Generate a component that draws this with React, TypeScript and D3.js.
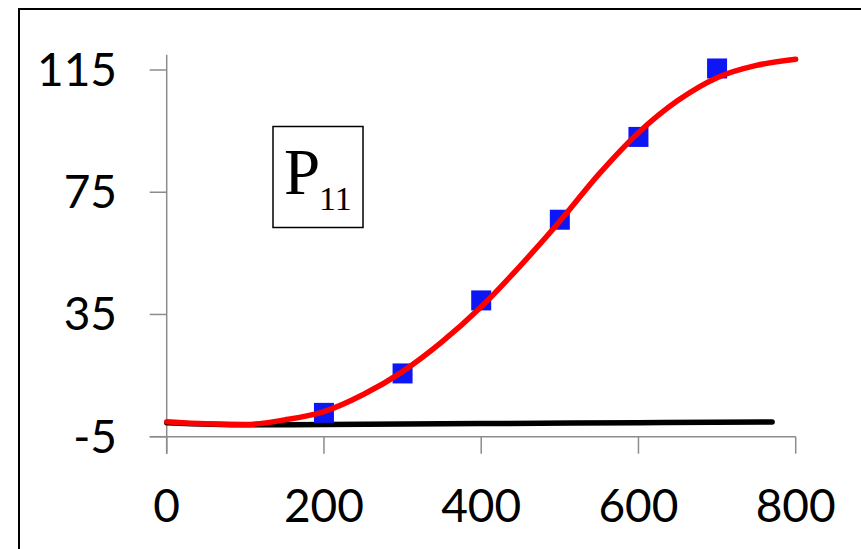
import React, { useRef, useEffect } from 'react';
import * as d3 from 'd3';

// measured points (blue squares)
const pointX = [200, 300, 400, 500, 600, 700];
const pointY = [2.8, 15.7, 39.6, 66.0, 93.1, 115.5];

// fitted curve (red)
const fitX = [0, 50, 100, 150, 200, 250, 300, 350, 400, 450, 500, 550, 600, 650, 700, 750, 800];
const fitY = [-0.1, -0.8, -1.0, 0.5, 3.2, 8.8, 16.3, 26, 37.5, 51, 65.5, 81, 94.5, 105, 112.5, 116.5, 118.5];

// baseline (black)
const baseX = [0, 100, 200, 400, 600, 770];
const baseY = [-0.4, -1.1, -1.0, -0.7, -0.4, -0.2];

const yTicks = [-5, 35, 75, 115];
const xTicks = [0, 200, 400, 600, 800];

const W = 861;
const H = 549;

const Chart = () => {
    const ref = useRef<SVGSVGElement>(null);

    useEffect(() => {
        if (!ref.current) return;
        const svg = d3.select(ref.current);
        svg.selectAll('*').remove();

        const x = d3.scaleLinear().domain([0, 800]).range([166.7, 795.7]);
        const y = d3.scaleLinear().domain([-5, 115]).range([436.7, 70]);

        // outer frame (right/bottom run off the picture)
        svg.append('rect')
            .attr('x', 19).attr('y', 9)
            .attr('width', 900).attr('height', 600)
            .attr('fill', 'white')
            .attr('stroke', '#000')
            .attr('stroke-width', 2);

        const axisColor = '#8c8c8c';
        const g = svg.append('g');

        // y axis
        g.append('line')
            .attr('x1', x(0)).attr('x2', x(0))
            .attr('y1', y(120)).attr('y2', y(-5) + 17)
            .attr('stroke', axisColor).attr('stroke-width', 1.5);
        g.selectAll('.ytick')
            .data(yTicks)
            .join('line')
            .attr('class', 'ytick')
            .attr('x1', x(0) - 17).attr('x2', x(0))
            .attr('y1', d => y(d)).attr('y2', d => y(d))
            .attr('stroke', axisColor).attr('stroke-width', 1.5);

        // x axis
        g.append('line')
            .attr('x1', x(0) - 17).attr('x2', x(800))
            .attr('y1', y(-5)).attr('y2', y(-5))
            .attr('stroke', axisColor).attr('stroke-width', 1.5);
        g.selectAll('.xtick')
            .data(xTicks)
            .join('line')
            .attr('class', 'xtick')
            .attr('x1', d => x(d)).attr('x2', d => x(d))
            .attr('y1', y(-5)).attr('y2', y(-5) + 17)
            .attr('stroke', axisColor).attr('stroke-width', 1.5);

        const font = 'Lato, "Open Sans", sans-serif';
        g.selectAll('.ylab')
            .data(yTicks)
            .join('text')
            .attr('class', 'ylab')
            .attr('x', 117)
            .attr('y', d => y(d) + 16)
            .attr('text-anchor', 'end')
            .attr('font-family', font)
            .attr('font-size', 46)
            .attr('fill', '#000')
            .text(d => d);
        g.selectAll('.xlab')
            .data(xTicks)
            .join('text')
            .attr('class', 'xlab')
            .attr('x', d => x(d))
            .attr('y', 522)
            .attr('text-anchor', 'middle')
            .attr('font-family', font)
            .attr('font-size', 46)
            .attr('fill', '#000')
            .text(d => d);

        const line = d3.line<number>()
            .curve(d3.curveMonotoneX);

        // black baseline
        svg.append('path')
            .attr('d', line.x((_, i) => x(baseX[i])).y((_, i) => y(baseY[i]))(baseY))
            .attr('fill', 'none')
            .attr('stroke', '#000')
            .attr('stroke-width', 5.5)
            .attr('stroke-linecap', 'round');

        // blue squares
        const s = 20;
        svg.selectAll('.pt')
            .data(pointX)
            .join('rect')
            .attr('class', 'pt')
            .attr('x', d => x(d) - s / 2)
            .attr('y', (_, i) => y(pointY[i]) - s / 2)
            .attr('width', s).attr('height', s)
            .attr('fill', '#0d17f5');

        // red fit
        svg.append('path')
            .attr('d', line.x((_, i) => x(fitX[i])).y((_, i) => y(fitY[i]))(fitY))
            .attr('fill', 'none')
            .attr('stroke', '#ff0000')
            .attr('stroke-width', 5.5)
            .attr('stroke-linecap', 'round');

        // P11 label box
        svg.append('rect')
            .attr('x', 273).attr('y', 126.5)
            .attr('width', 90).attr('height', 101)
            .attr('fill', 'white')
            .attr('stroke', '#000')
            .attr('stroke-width', 1.5);
        svg.append('text')
            .attr('x', 284).attr('y', 193.5)
            .attr('font-family', '"Liberation Serif", "Times New Roman", serif')
            .attr('font-size', 65)
            .attr('fill', '#000')
            .text('P');
        svg.append('text')
            .attr('x', 319).attr('y', 210)
            .attr('font-family', '"Liberation Serif", "Times New Roman", serif')
            .attr('font-size', 34)
            .attr('fill', '#000')
            .text('11');
    }, []);

    return <svg ref={ref} width={W} height={H} style={{ position: 'absolute', left: 0, top: 0 }} />;
};

export default function App() {
    return <Chart />;
}
